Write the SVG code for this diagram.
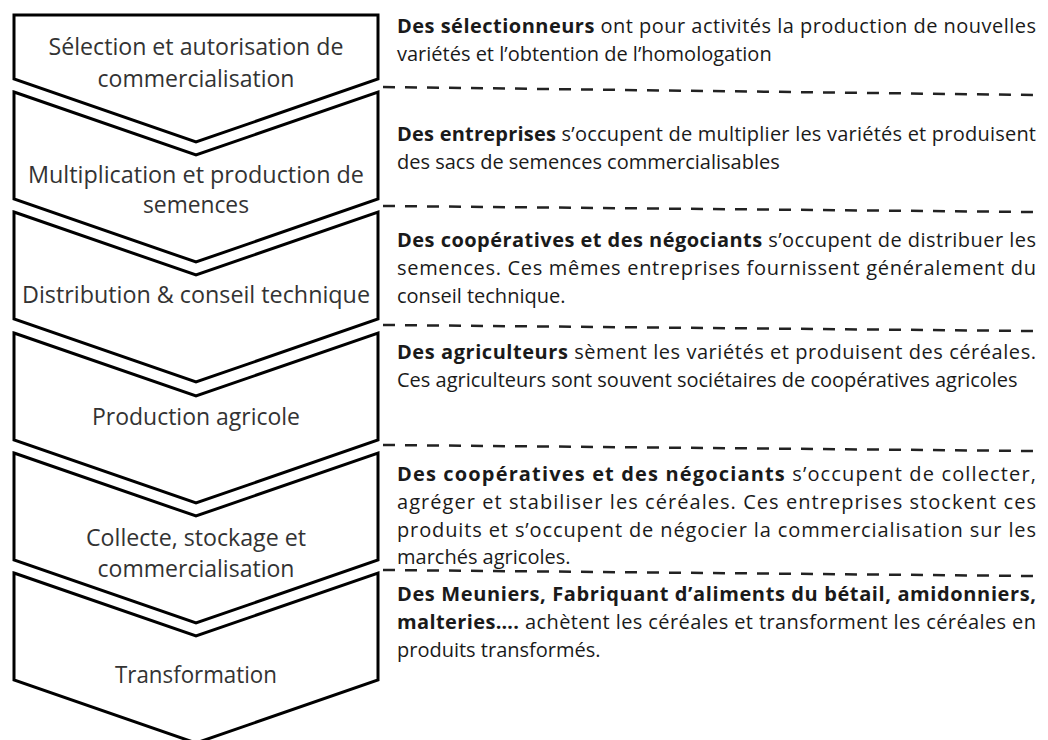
<svg xmlns="http://www.w3.org/2000/svg" width="1048" height="740" viewBox="0 0 1048 740">
<style>
.chev{fill:#fff;stroke:#000;stroke-width:3;stroke-linejoin:miter}
.lbl{font-family:"Open Sans","Liberation Sans",sans-serif;font-size:23px;fill:#333;text-anchor:middle}
.desc{font-family:"Open Sans","Liberation Sans",sans-serif;font-size:20px;fill:#1a1a1a}
.b{font-weight:bold}
.sep{stroke:#222;stroke-width:2.5;stroke-dasharray:12 10;fill:none}
</style>
<rect width="1048" height="740" fill="#fff"/>
<g id="step1">
<path class="chev" d="M14,15 L378,15 L378,79 L196,142 L14,79 Z"/>
<text class="lbl" x="196" y="55" textLength="295" lengthAdjust="spacingAndGlyphs">Sélection et autorisation de</text>
<text class="lbl" x="196" y="87" textLength="197" lengthAdjust="spacingAndGlyphs">commercialisation</text>
</g>
<g id="step2">
<path class="chev" d="M14,92 L196,155 L378,92 L378,199 L196,262 L14,199 Z"/>
<text class="lbl" x="196" y="183" textLength="336" lengthAdjust="spacingAndGlyphs">Multiplication et production de</text>
<text class="lbl" x="196" y="213" textLength="106" lengthAdjust="spacingAndGlyphs">semences</text>
</g>
<g id="step3">
<path class="chev" d="M14,212 L196,275 L378,212 L378,319 L196,382 L14,319 Z"/>
<text class="lbl" x="196" y="303" textLength="348" lengthAdjust="spacingAndGlyphs">Distribution &amp; conseil technique</text>
</g>
<g id="step4">
<path class="chev" d="M14,333 L196,396 L378,333 L378,440 L196,503 L14,440 Z"/>
<text class="lbl" x="196" y="425" textLength="208" lengthAdjust="spacingAndGlyphs">Production agricole</text>
</g>
<g id="step5">
<path class="chev" d="M14,453 L196,516 L378,453 L378,560 L196,623 L14,560 Z"/>
<text class="lbl" x="196" y="546" textLength="220" lengthAdjust="spacingAndGlyphs">Collecte, stockage et</text>
<text class="lbl" x="196" y="577" textLength="197" lengthAdjust="spacingAndGlyphs">commercialisation</text>
</g>
<g id="step6">
<path class="chev" d="M14,573 L196,636 L378,573 L378,680 L196,743 L14,680 Z"/>
<text class="lbl" x="196" y="683" textLength="162" lengthAdjust="spacingAndGlyphs">Transformation</text>
</g>
<g id="connectors">
<line class="sep" x1="383" y1="87" x2="1033" y2="95"/>
<line class="sep" x1="383" y1="206" x2="1033" y2="212"/>
<line class="sep" x1="383" y1="325" x2="1033" y2="331"/>
<line class="sep" x1="383" y1="445" x2="1033" y2="451"/>
<line class="sep" x1="383" y1="570" x2="1033" y2="576"/>
</g>
<g id="desc1">
<text class="desc" x="397" y="33" textLength="639" lengthAdjust="spacing"><tspan class="b">Des sélectionneurs</tspan> ont pour activités la production de nouvelles</text>
<text class="desc" x="397" y="61">variétés et l’obtention de l’homologation</text>
</g>
<g id="desc2">
<text class="desc" x="397" y="141" textLength="639" lengthAdjust="spacing"><tspan class="b">Des entreprises</tspan> s’occupent de multiplier les variétés et produisent</text>
<text class="desc" x="397" y="169">des sacs de semences commercialisables</text>
</g>
<g id="desc3">
<text class="desc" x="397" y="247" textLength="639" lengthAdjust="spacing"><tspan class="b">Des coopératives et des négociants</tspan> s’occupent de distribuer les</text>
<text class="desc" x="397" y="275" textLength="639" lengthAdjust="spacing">semences. Ces mêmes entreprises fournissent généralement du</text>
<text class="desc" x="397" y="303">conseil technique.</text>
</g>
<g id="desc4">
<text class="desc" x="397" y="359" textLength="639" lengthAdjust="spacing"><tspan class="b">Des agriculteurs</tspan> sèment les variétés et produisent des céréales.</text>
<text class="desc" x="397" y="387">Ces agriculteurs sont souvent sociétaires de coopératives agricoles</text>
</g>
<g id="desc5">
<text class="desc" x="397" y="481" textLength="639" lengthAdjust="spacing"><tspan class="b">Des coopératives et des négociants</tspan> s’occupent de collecter,</text>
<text class="desc" x="397" y="509" textLength="639" lengthAdjust="spacing">agréger et stabiliser les céréales. Ces entreprises stockent ces</text>
<text class="desc" x="397" y="537" textLength="639" lengthAdjust="spacing">produits et s’occupent de négocier la commercialisation sur les</text>
<text class="desc" x="397" y="564">marchés agricoles.</text>
</g>
<g id="desc6">
<text class="desc" x="397" y="601" textLength="639" lengthAdjust="spacing"><tspan class="b">Des Meuniers, Fabriquant d’aliments du bétail, amidonniers,</tspan></text>
<text class="desc" x="397" y="629" textLength="639" lengthAdjust="spacing"><tspan class="b">malteries….</tspan> achètent les céréales et transforment les céréales en</text>
<text class="desc" x="397" y="657">produits transformés.</text>
</g>
</svg>
